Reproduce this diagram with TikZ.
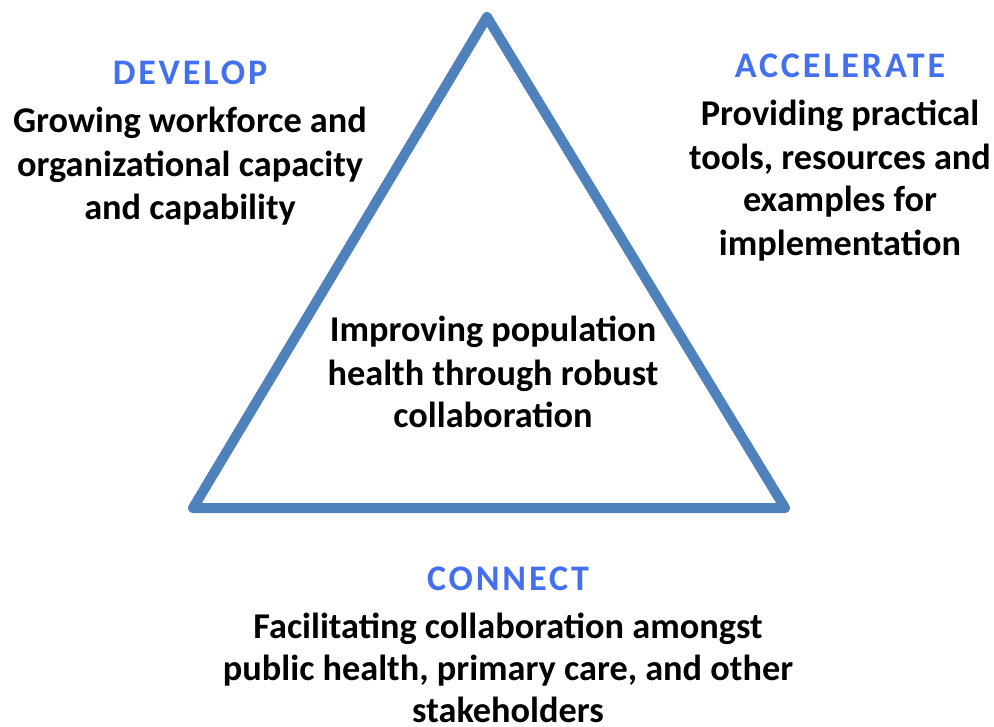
\documentclass[tikz,border=0pt]{standalone}
\usepackage{fontspec}
\setmainfont{Carlito}
\newfontfamily\headfont[LetterSpace=8]{Carlito}
\definecolor{tri}{RGB}{79,129,189}
\definecolor{head}{RGB}{66,112,240}
\tikzset{
  body/.style={font=\fontsize{36.3}{44}\selectfont\bfseries, text=black, inner sep=0pt, anchor=base},
  headtxt/.style={font=\headfont\fontsize{36}{44}\selectfont\bfseries, text=head, inner sep=0pt, anchor=base},
}
\begin{document}
\begin{tikzpicture}[x=1pt,y=-1pt]
\useasboundingbox[fill=white] (0,0) rectangle (994,727);
\coordinate (apex) at (487,17);
\coordinate (bl) at (193,508);
\coordinate (br) at (785,508);
\draw[tri, line width=10pt, line join=round] (apex) -- (bl) -- (br) -- cycle;
\node[headtxt] (dev) at (190,85) {DEVELOP};
\node[body] (d1) at (190,133) {Growing workforce and};
\node[body] (d2) at (190,177) {organizational capacity};
\node[body] (d3) at (190,220) {and capability};
\node[headtxt] (acc) at (840,78) {ACCELERATE};
\node[body] (a1) at (840,126) {Providing practical};
\node[body] (a2) at (840,170) {tools, resources and};
\node[body] (a3) at (840,212) {examples for};
\node[body] (a4) at (840,256) {implementation};
\node[body] (c1) at (493,342) {Improving population};
\node[body] (c2) at (493,386) {health through robust};
\node[body] (c3) at (493,428) {collaboration};
\node[headtxt] (con) at (508,590) {CONNECT};
\node[body] (n1) at (508,638) {Facilitating collaboration amongst};
\node[body] (n2) at (508,680) {public health, primary care, and other};
\node[body] (n3) at (508,722) {stakeholders};
\end{tikzpicture}
\end{document}
